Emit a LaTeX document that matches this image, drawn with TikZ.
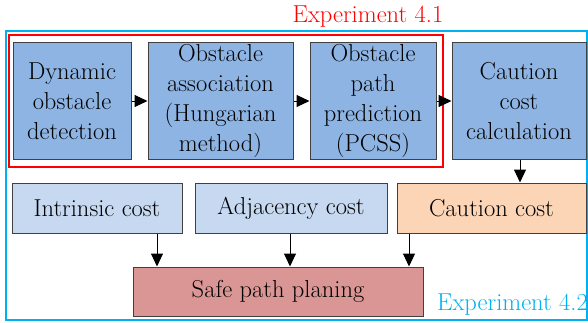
\documentclass[tikz,border=0pt]{standalone}
\usetikzlibrary{arrows.meta}
\definecolor{darkbox}{HTML}{8EB4E3}
\definecolor{lightbox}{HTML}{C6D9F1}
\definecolor{orangebox}{HTML}{FBD5B5}
\definecolor{redbox}{HTML}{D99694}
\definecolor{cyanframe}{HTML}{00B0F0}
\definecolor{edge}{HTML}{404040}
\begin{document}
\begin{tikzpicture}[x=1pt,y=1pt,
  box/.style={draw=edge, line width=1pt, inner sep=0pt, align=center,
    font=\rmfamily\fontsize{24.5}{30}\selectfont},
  arr/.style={line width=1pt, -{Triangle[length=13pt,width=12pt]}},
  lbl/.style={inner sep=0pt, font=\rmfamily\fontsize{24.5}{30}\selectfont}]
\useasboundingbox (0,0) rectangle (588,322);
% frames
\draw[cyanframe, line width=1.5pt] (6,2) rectangle (587,291);
\draw[red, line width=1.2pt] (9,155) rectangle (443,287);
\node[lbl, text=red] (e41) at (368,305) {Experiment 4.1};
\node[lbl, text=cyanframe, anchor=south east] (e42) at (588,7) {Experiment 4.2};
% top row
\node[box, fill=darkbox, minimum width=118, minimum height=116] (b1) at (72,221) {Dynamic\\obstacle\\detection};
\node[box, fill=darkbox, minimum width=145, minimum height=116] (b2) at (220.5,221) {Obstacle\\association\\(Hungarian\\method)};
\node[box, fill=darkbox, minimum width=126, minimum height=116] (b3) at (373,221) {Obstacle\\path\\prediction\\(PCSS)};
\node[box, fill=darkbox, minimum width=134, minimum height=116] (b4) at (519,221) {Caution\\cost\\calculation};
% middle row
\node[box, fill=lightbox, minimum width=170, minimum height=50] (ic) at (97,114) {Intrinsic cost};
\node[box, fill=lightbox, minimum width=192, minimum height=50] (ac) at (291,114) {Adjacency cost};
\node[box, fill=orangebox, minimum width=189, minimum height=50] (cc) at (491.5,114) {Caution cost};
% bottom
\node[box, fill=redbox, minimum width=290, minimum height=49] (sp) at (278,30.5) {Safe path planing};
% arrows
\draw[arr] (b1.east) -- (b2.west);
\draw[arr] (b2.east) -- (b3.west);
\draw[arr] (b3.east) -- (b4.west);
\draw[arr] (b4.south -| 520,0) -- (cc.north -| 520,0);
\draw[arr] (ic.south -| 157,0) -- (sp.north -| 157,0);
\draw[arr] (ac.south -| 290,0) -- (sp.north -| 290,0);
\draw[arr] (cc.south -| 409,0) -- (sp.north -| 409,0);
\end{tikzpicture}
\end{document}
